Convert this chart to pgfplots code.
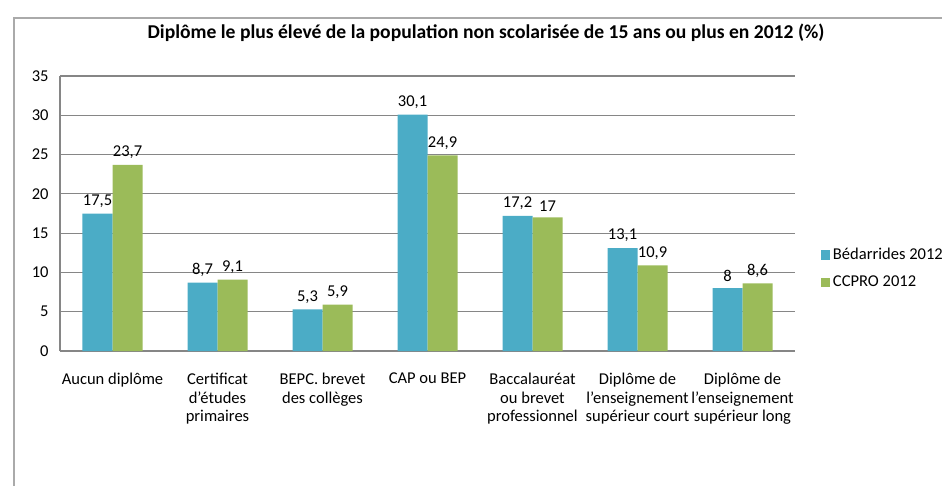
\documentclass[border=0pt]{standalone}
\usepackage{fontspec}
\setmainfont{Carlito}
\usepackage{pgfplots}
\pgfplotsset{compat=1.18}
\definecolor{cblue}{HTML}{4BACC6}
\definecolor{cgreen}{HTML}{9BBB59}
\definecolor{cgrid}{HTML}{868686}
\begin{document}
\begin{tikzpicture}
\path[use as bounding box] (0,0) rectangle (706.5pt,-364.5pt);
\draw[cgrid!70, line width=0.8pt] (10.5pt,-364.5pt) -- (10.5pt,-13.5pt) -- (706.5pt,-13.5pt);
\node[font=\fontsize{14.7}{17}\selectfont\bfseries] at (364.5pt,-24.75pt) {Diplôme le plus élevé de la population non scolarisée de 15 ans ou plus en 2012 (\%)};
\begin{axis}[
  at={(45pt,-263.25pt)}, anchor=south west,
  scale only axis, width=551.25pt, height=206.25pt,
  ybar, bar width=22.5pt, ymin=0, ymax=35, ytick={0,5,...,35},
  xmin=-0.5, xmax=6.5, xtick={0,...,6}, enlargelimits=false,
  xticklabels={Aucun diplôme,{Certificat\\d’études\\primaires},{BEPC. brevet\\des collèges},CAP ou BEP,{Baccalauréat\\ou brevet\\professionnel},{Diplôme de\\l’enseignement\\supérieur court},{Diplôme de\\l’enseignement\\supérieur long}},
  xticklabel style={align=center, yshift=-13pt, font=\fontsize{12.4}{13.9}\selectfont},
  yticklabel style={xshift=-5pt, font=\fontsize{12.4}{13.9}\selectfont},
  major tick length=0pt,
  axis x line*=bottom, axis y line*=left,
  axis line style={cgrid, line width=0.8pt},
  ymajorgrids, major grid style={cgrid, line width=0.8pt},
  nodes near coords, nodes near coords style={font=\fontsize{12.4}{13.9}\selectfont, /pgf/number format/use comma, yshift=1pt},
  /pgf/number format/assume math mode=true,
  legend style={at={(1.035,0.30)}, anchor=west, draw=none, fill=none, font=\fontsize{12.4}{13.9}\selectfont, row sep=6.5pt, inner sep=0pt},
  legend cell align=left,
  legend image code/.code={\fill[#1] (0pt,-3.5pt) rectangle (7pt,3.5pt);},
]
\addplot[fill=cblue, draw=none, bar shift=-11.25pt] coordinates {(0,17.5) (1,8.7) (2,5.3) (3,30.1) (4,17.2) (5,13.1) (6,8)};
\addplot[fill=cgreen, draw=none, bar shift=11.25pt] coordinates {(0,23.7) (1,9.1) (2,5.9) (3,24.9) (4,17) (5,10.9) (6,8.6)};
\legend{Bédarrides 2012, CCPRO 2012}
\end{axis}
\end{tikzpicture}
\end{document}
